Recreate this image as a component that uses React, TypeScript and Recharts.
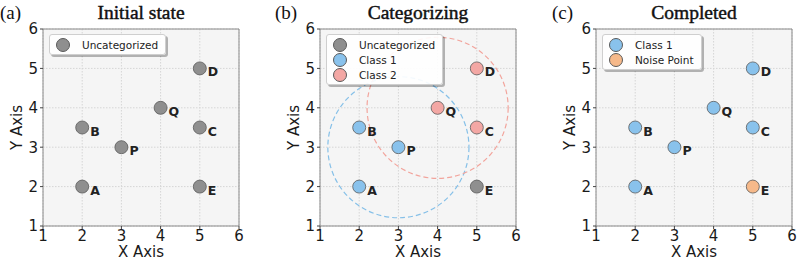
import React from 'react';
import {
  ScatterChart, Scatter, XAxis, YAxis, CartesianGrid, ReferenceArea, ReferenceDot,
} from 'recharts';

// point data (same coordinates in every panel)
const pointNames = ['A', 'B', 'C', 'D', 'E', 'P', 'Q'];
const pointX = [2, 2, 5, 5, 5, 3, 4];
const pointY = [2, 3.5, 3.5, 5, 2, 3, 4];

// category of each point per panel
const stateInitial = ['Uncategorized', 'Uncategorized', 'Uncategorized', 'Uncategorized', 'Uncategorized', 'Uncategorized', 'Uncategorized'];
const stateCategorizing = ['Class 1', 'Class 1', 'Class 2', 'Class 2', 'Uncategorized', 'Class 1', 'Class 2'];
const stateCompleted = ['Class 1', 'Class 1', 'Class 1', 'Class 1', 'Noise Point', 'Class 1', 'Class 1'];

const axisTicks = [1, 2, 3, 4, 5, 6];

// dashed neighbourhood circles in panel (b)
const circleCenters = [{ x: 3, y: 3 }, { x: 4, y: 4 }];
const circleRadius = 1.8;
const circleColors = ['#86c0e8', '#f2a49c'];

const COLORS: Record<string, string> = {
  'Uncategorized': '#8f8f8f',
  'Class 1': '#89c2ec',
  'Class 2': '#f3a7a4',
  'Noise Point': '#f6b98a',
};

const CHART_W = 244;
const CHART_H = 261;
const MARGIN = { top: 29, right: 5, left: 0, bottom: 0 };
const Y_AXIS_W = 43;
const X_AXIS_H = 35;
const PLOT_W = CHART_W - MARGIN.left - MARGIN.right - Y_AXIS_W;
const PLOT_H = CHART_H - MARGIN.top - MARGIN.bottom - X_AXIS_H;

const tickStyle = { fontFamily: 'DejaVu Sans', fontSize: 15, fill: '#1a1a1a' };

const PointShape = (props: any) => {
  const { cx, cy, payload, fill } = props;
  return (
    <g>
      <circle cx={cx} cy={cy} r={6.5} fill={fill} stroke="#5a5a5a" strokeWidth={0.8} />
      <text x={cx + 8} y={cy + 8} fontFamily="DejaVu Sans" fontWeight="bold" fontSize={12.5} fill="#222">
        {payload.name}
      </text>
    </g>
  );
};

interface PanelProps {
  letter: string;
  title: string;
  states: string[];
  legend: string[];
  left: number;
  letterLeft: number;
  circles?: boolean;
}

const Panel: React.FC<PanelProps> = ({ letter, title, states, legend, left, letterLeft, circles }) => {
  const groups = legend.map(cat => ({
    cat,
    data: pointNames
      .map((name, i) => ({ name, x: pointX[i], y: pointY[i], s: states[i] }))
      .filter(p => p.s === cat),
  }));
  const plotCx = Y_AXIS_W + PLOT_W / 2;

  return (
    <div style={{ position: 'absolute', left, top: 0, width: CHART_W, height: CHART_H }}>
      <ScatterChart width={CHART_W} height={CHART_H} margin={MARGIN}>
        <CartesianGrid fill="#f5f5f5" stroke="#d6d6d6" strokeDasharray="1.5 1.5" />
        <ReferenceArea x1={1} x2={6} y1={1} y2={6} fill="none" stroke="#8a8a8a" strokeWidth={1} fillOpacity={0} />
        <XAxis
          type="number" dataKey="x" domain={[1, 6]} ticks={axisTicks} height={X_AXIS_H}
          tick={tickStyle} tickSize={3} tickMargin={1} stroke="#444" axisLine={false}
          allowDataOverflow
          label={{
            content: () => (
              <text x={plotCx} y={257} textAnchor="middle" fontFamily="DejaVu Sans" fontSize={15} fill="#1a1a1a">X Axis</text>
            ),
          }}
        />
        <YAxis
          type="number" dataKey="y" domain={[1, 6]} ticks={axisTicks} width={Y_AXIS_W}
          tick={tickStyle} tickSize={3} tickMargin={2} stroke="#444" axisLine={false}
          allowDataOverflow
          label={{
            content: () => (
              <text
                x={17} y={MARGIN.top + PLOT_H / 2} textAnchor="middle" dominantBaseline="central"
                transform={`rotate(-90 17 ${MARGIN.top + PLOT_H / 2})`}
                fontFamily="DejaVu Sans" fontSize={15} fill="#1a1a1a"
              >Y Axis</text>
            ),
          }}
        />
        {circles && circleCenters.map((c, i) => (
          <ReferenceDot
            key={i} x={c.x} y={c.y} r={(circleRadius * PLOT_W) / 5}
            fill="none" stroke={circleColors[i]} strokeWidth={1.2} strokeDasharray="5 3"
          />
        ))}
        {groups.map(g => (
          <Scatter
            key={g.cat} name={g.cat} data={g.data} fill={COLORS[g.cat]}
            shape={PointShape} isAnimationActive={false}
          />
        ))}
      </ScatterChart>

      <div style={{ position: 'absolute', left: letterLeft, top: 2, fontFamily: 'Liberation Serif', fontSize: 19, color: '#111', lineHeight: '22px' }}>
        ({letter})
      </div>
      <div style={{
        position: 'absolute', left: Y_AXIS_W, width: PLOT_W, top: 2, textAlign: 'center',
        fontFamily: 'Liberation Serif', fontSize: 19.5, color: '#111', lineHeight: '22px',
        WebkitTextStroke: '0.45px #111',
      }}>
        {title}
      </div>

      <div style={{
        position: 'absolute', left: Y_AXIS_W + 6, top: 34, padding: '2px 7px 2px 6px',
        background: 'rgba(255,255,255,0.9)', border: '1px solid #cfcfcf', borderRadius: 3,
        boxShadow: '2px 2px 0 rgba(0,0,0,0.28)',
      }}>
        {legend.map(cat => (
          <div key={cat} style={{ display: 'flex', alignItems: 'center', height: 15 }}>
            <span style={{
              display: 'inline-block', width: 12, height: 12, borderRadius: '50%',
              background: COLORS[cat], border: '0.8px solid #5a5a5a',
            }} />
            <span style={{ marginLeft: 12, fontFamily: 'DejaVu Sans', fontSize: 10.5, color: '#222' }}>{cat}</span>
          </div>
        ))}
      </div>
    </div>
  );
};

export default function App() {
  return (
    <div style={{ position: 'absolute', left: 0, top: 0, width: 797, height: 261, overflow: 'hidden', background: '#fff' }}>
      <Panel letter="a" title="Initial state" states={stateInitial} legend={['Uncategorized']} left={0} letterLeft={0} />
      <Panel letter="b" title="Categorizing" states={stateCategorizing} legend={['Uncategorized', 'Class 1', 'Class 2']} left={277} letterLeft={-2} circles />
      <Panel letter="c" title="Completed" states={stateCompleted} legend={['Class 1', 'Noise Point']} left={553} letterLeft={-1} />
    </div>
  );
}
